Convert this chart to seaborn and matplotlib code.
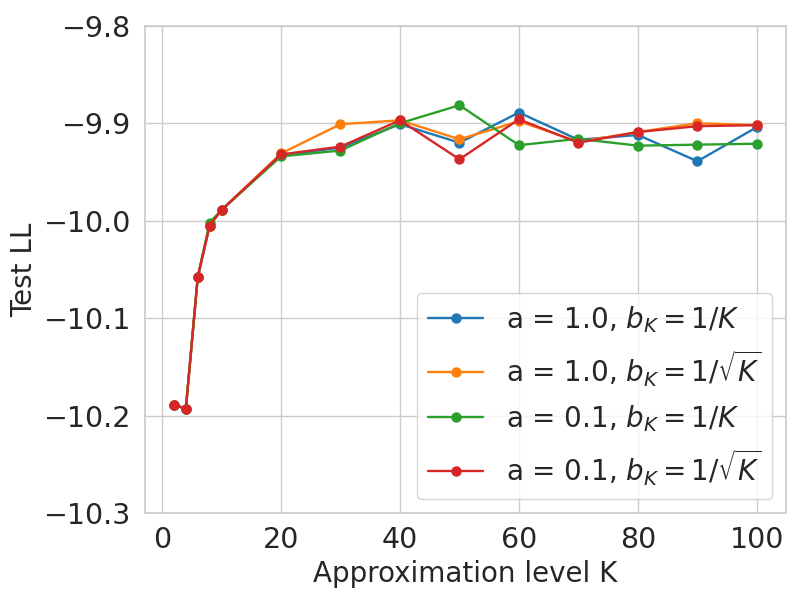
import numpy as np
import pandas as pd
import matplotlib
matplotlib.use('Agg')
import matplotlib.pyplot as plt
import seaborn as sns

# データ
K = [2, 4, 6, 8, 10, 20, 30, 40, 50, 60, 70, 80, 90, 100]
ll_a10_inv = [-10.189, -10.193, -10.058, -10.005, -9.989, -9.933, -9.925, -9.901, -9.920,
              -9.889, -9.917, -9.912, -9.939, -9.904]
ll_a10_sqrt = [-10.189, -10.193, -10.058, -10.005, -9.989, -9.931, -9.901, -9.897, -9.9165,
               -9.898, -9.919, -9.909, -9.900, -9.902]
ll_a01_inv = [-10.189, -10.193, -10.058, -10.002, -9.989, -9.934, -9.928, -9.900, -9.8815,
              -9.9225, -9.916, -9.923, -9.922, -9.921]
ll_a01_sqrt = [-10.189, -10.193, -10.058, -10.005, -9.989, -9.932, -9.924, -9.897, -9.937,
               -9.896, -9.920, -9.909, -9.903, -9.902]

labels = [r'a = 1.0, $b_K = 1/K$',
          r'a = 1.0, $b_K = 1/\sqrt{K}$',
          r'a = 0.1, $b_K = 1/K$',
          r'a = 0.1, $b_K = 1/\sqrt{K}$']
series = [ll_a10_inv, ll_a10_sqrt, ll_a01_inv, ll_a01_sqrt]

sns.set_theme(style='whitegrid')
plt.rcParams['font.family'] = ['DejaVu Sans']

fig, ax = plt.subplots(figsize=(8, 6), dpi=100)
colors = sns.color_palette('tab10')

for i, (lab, vals) in enumerate(zip(labels, series)):
    df = pd.DataFrame({'K': K, 'LL': vals})
    sns.lineplot(data=df, x='K', y='LL', ax=ax, color=colors[i], marker='o',
                 markersize=7.5, markeredgewidth=0, linewidth=1.7, label=lab)

ax.set_ylim(-10.3, -9.8)
ax.set_yticks([-10.3, -10.2, -10.1, -10.0, -9.9, -9.8])
ax.set_xlabel('Approximation level K', fontsize=20)
ax.set_ylabel('Test LL', fontsize=20)
ax.tick_params(labelsize=20.5)
ax.legend(loc='lower right', fontsize=20)

plt.subplots_adjust(left=0.181, right=0.9825, top=0.957, bottom=0.145)
plt.savefig('out.png')
